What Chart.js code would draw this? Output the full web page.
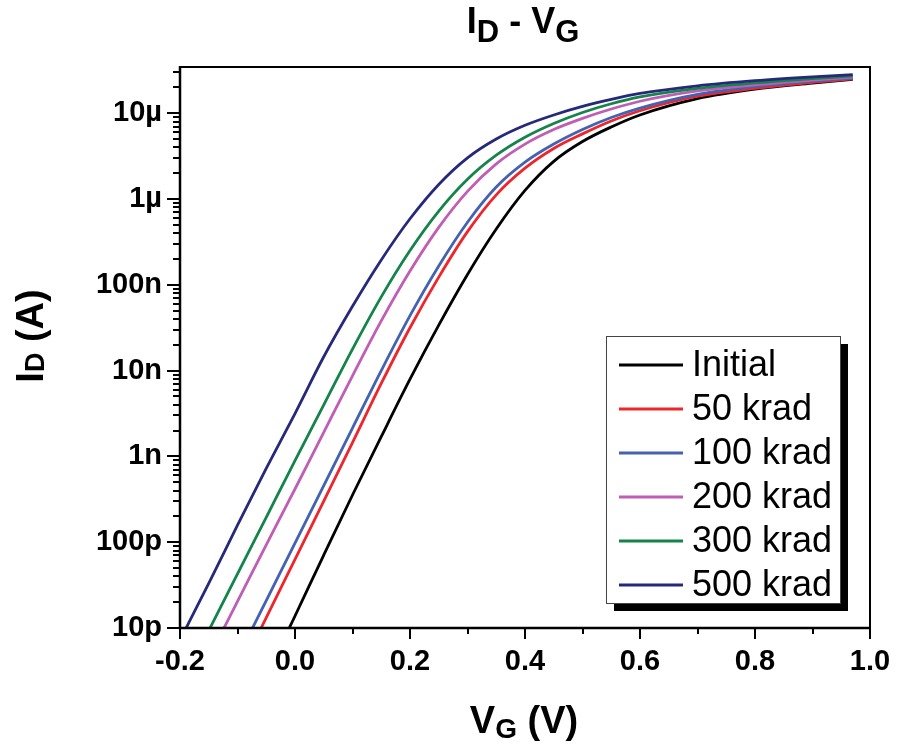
<!DOCTYPE html>
<html><head><meta charset="utf-8">
<script src="https://cdn.jsdelivr.net/npm/chart.js@4.4.1/dist/chart.umd.min.js"></script>
<style>html,body{margin:0;padding:0;background:#fff;overflow:hidden}</style>
</head><body>
<canvas id="c" width="897" height="746"></canvas>
<script>
// ---- data ----
const VG = [-0.2,-0.15,-0.1,-0.05,0,0.05,0.1,0.15,0.2,0.25,0.3,0.35,0.4,0.45,0.5,0.55,0.6,0.7,0.8,0.9,0.97];
const ID_initial = [2.5e-14,1.12e-13,5.62e-13,2.75e-12,1.38e-11,7.08e-11,3.55e-10,1.70e-9,7.94e-9,3.39e-8,1.32e-7,4.47e-7,1.26e-6,2.75e-6,4.68e-6,6.92e-6,9.55e-6,1.48e-5,1.91e-5,2.24e-5,2.48e-5];
const ID_50krad = [1.2e-13,5.75e-13,2.75e-12,1.32e-11,6.31e-11,3.02e-10,1.45e-9,7.08e-9,3.16e-8,1.23e-7,4.17e-7,1.12e-6,2.29e-6,3.89e-6,5.75e-6,8.13e-6,1.07e-5,1.58e-5,1.95e-5,2.29e-5,2.51e-5];
const ID_100krad = [2.0e-13,9.55e-13,4.47e-12,2.09e-11,9.77e-11,4.57e-10,2.14e-9,1.0e-8,4.37e-8,1.66e-7,5.37e-7,1.38e-6,2.69e-6,4.37e-6,6.46e-6,8.91e-6,1.15e-5,1.66e-5,2.04e-5,2.37e-5,2.57e-5];
const ID_200krad = [1.0e-12,4.47e-12,2.04e-11,9.33e-11,4.17e-10,1.91e-9,8.71e-9,3.80e-8,1.45e-7,4.68e-7,1.23e-6,2.57e-6,4.37e-6,6.46e-6,8.71e-6,1.12e-5,1.38e-5,1.82e-5,2.14e-5,2.43e-5,2.63e-5];
const ID_300krad = [2.04e-12,9.33e-12,4.27e-11,1.95e-10,8.91e-10,3.98e-9,1.78e-8,7.24e-8,2.51e-7,7.24e-7,1.70e-6,3.24e-6,5.25e-6,7.59e-6,1.02e-5,1.29e-5,1.55e-5,1.95e-5,2.26e-5,2.54e-5,2.72e-5];
const ID_500krad = [7.24e-12,3.31e-11,1.58e-10,7.24e-10,3.16e-9,1.45e-8,5.62e-8,1.95e-7,5.89e-7,1.48e-6,3.02e-6,5.01e-6,7.24e-6,9.55e-6,1.20e-5,1.45e-5,1.70e-5,2.09e-5,2.40e-5,2.66e-5,2.82e-5];
const seriesLabels = ['Initial','50 krad','100 krad','200 krad','300 krad','500 krad'];
const seriesData = [ID_initial, ID_50krad, ID_100krad, ID_200krad, ID_300krad, ID_500krad];
const seriesColors = ['#000000','#ee262b','#4462b2','#c05db5','#14844a','#26297a'];
const yTickValues = [1e-11,1e-10,1e-9,1e-8,1e-7,1e-6,1e-5];
const yTickLabels = ['10p','100p','1n','10n','100n','1µ','10µ'];
const xMin = -0.2, xMax = 1.0, yMin = 1e-11, yMax = 3.46e-5;

const FONT = "'Liberation Sans', Arial, sans-serif";

function drawParts(ctx, parts, cx, baseY) {
  let total = 0;
  parts.forEach(p => { ctx.font = 'bold ' + p[1] + 'px ' + FONT; total += ctx.measureText(p[0]).width; });
  let x = cx - total / 2;
  ctx.textAlign = 'left'; ctx.textBaseline = 'alphabetic';
  parts.forEach(p => {
    ctx.font = 'bold ' + p[1] + 'px ' + FONT;
    ctx.fillText(p[0], x, baseY + p[2]);
    x += ctx.measureText(p[0]).width;
  });
}

const decorPlugin = {
  id: 'decor',
  afterDraw(chart) {
    const {ctx, chartArea: a, scales: {x, y}} = chart;
    ctx.save();
    ctx.strokeStyle = '#000'; ctx.fillStyle = '#000';
    ctx.lineWidth = 2;
    y.ticks.forEach(t => {
      const v = t.value;
      const e = Math.floor(Math.log10(v) + 1e-9);
      const m = v / Math.pow(10, e);
      if (Math.abs(m - Math.round(m)) > 1e-6) return;
      const py = Math.round(y.getPixelForValue(v));
      const len = Math.round(m) === 1 ? 13 : 7;
      ctx.beginPath(); ctx.moveTo(a.left - len, py); ctx.lineTo(a.left, py); ctx.stroke();
    });
    x.ticks.forEach(t => {
      const px = Math.round(x.getPixelForValue(t.value));
      const major = Math.round(t.value * 10) % 2 === 0;
      const len = major ? 11 : 6;
      ctx.beginPath(); ctx.moveTo(px, a.bottom); ctx.lineTo(px, a.bottom + len); ctx.stroke();
    });
    ctx.lineWidth = 2;
    ctx.beginPath(); ctx.moveTo(a.left, a.top); ctx.lineTo(a.right, a.top); ctx.lineTo(a.right, a.bottom); ctx.stroke();
    ctx.lineWidth = 2.5;
    ctx.beginPath(); ctx.moveTo(a.left, a.top - 1); ctx.lineTo(a.left, a.bottom); ctx.lineTo(a.right + 1, a.bottom); ctx.stroke();

    // legend
    const lx = 606, ly = 336, lw = 234, lh = 267;
    ctx.fillStyle = '#000';
    ctx.fillRect(lx + 8, ly + 8, lw, lh);
    ctx.fillStyle = '#fff';
    ctx.fillRect(lx, ly, lw, lh);
    ctx.strokeStyle = '#444'; ctx.lineWidth = 1;
    ctx.strokeRect(lx + 0.5, ly + 0.5, lw, lh);
    chart.data.datasets.forEach((ds, i) => {
      const ry = ly + 29 + i * 44;
      ctx.strokeStyle = ds.borderColor; ctx.lineWidth = 3;
      ctx.beginPath(); ctx.moveTo(lx + 13, ry); ctx.lineTo(lx + 77, ry); ctx.stroke();
      ctx.fillStyle = '#000';
      ctx.font = '36px ' + FONT;
      ctx.textAlign = 'left'; ctx.textBaseline = 'alphabetic';
      ctx.fillText(ds.label, lx + 86, ry + 11);
    });

    // titles
    ctx.fillStyle = '#000';
    drawParts(ctx, [['I', 36, 0], ['D', 31, 9], [' - ', 36, 0], ['V', 36, 0], ['G', 31, 9]], 523, 33);
    drawParts(ctx, [['V', 38, 0], ['G', 28, 5], [' (V)', 38, 0]], 524, 733);
    ctx.save();
    ctx.translate(43, 336);
    ctx.rotate(-Math.PI / 2);
    drawParts(ctx, [['I', 38, 0], ['D', 27, 1], [' (A)', 38, 0]], 0, 0);
    ctx.restore();
    ctx.restore();
  }
};

const datasets = seriesData.map((arr, i) => ({
  label: seriesLabels[i],
  data: VG.map((v, j) => ({x: v, y: arr[j]})),
  borderColor: seriesColors[i],
  backgroundColor: seriesColors[i],
  borderWidth: 2.8,
  pointRadius: 0,
  fill: false,
  cubicInterpolationMode: 'monotone',
  clip: 1,
  order: 5 - i
}));

new Chart(document.getElementById('c').getContext('2d'), {
  type: 'line',
  data: {datasets},
  options: {
    responsive: false,
    animation: false,
    events: [],
    layout: {padding: {left: 0, right: 27, top: 67, bottom: 0}},
    plugins: {legend: {display: false}, title: {display: false}, tooltip: {enabled: false}},
    scales: {
      x: {
        type: 'linear', min: xMin, max: xMax,
        afterFit: s => { s.height = 118; s.paddingLeft = 0; s.paddingRight = 0; },
        grid: {display: false, drawTicks: false},
        border: {display: false},
        ticks: {
          stepSize: 0.1, autoSkip: false, maxRotation: 0, minRotation: 0, padding: 17,
          color: '#000', font: {family: FONT, size: 29, weight: 'bold'},
          callback: v => (Math.round(v * 10) % 2 === 0 ? (Math.abs(v) < 1e-9 ? '0.0' : v.toFixed(1)) : '')
        }
      },
      y: {
        type: 'logarithmic', min: yMin, max: yMax,
        afterFit: s => { s.width = 180; s.paddingTop = 0; s.paddingBottom = 0; },
        grid: {display: false, drawTicks: false},
        border: {display: false},
        ticks: {
          autoSkip: false, padding: 18,
          color: '#000', font: {family: FONT, size: 29, weight: 'bold'},
          callback: v => {
            const e = Math.log10(v);
            const idx = yTickValues.findIndex(t => Math.abs(Math.log10(t) - e) < 1e-6);
            return idx >= 0 ? yTickLabels[idx] : '';
          }
        }
      }
    }
  },
  plugins: [decorPlugin]
});
</script>
</body></html>
